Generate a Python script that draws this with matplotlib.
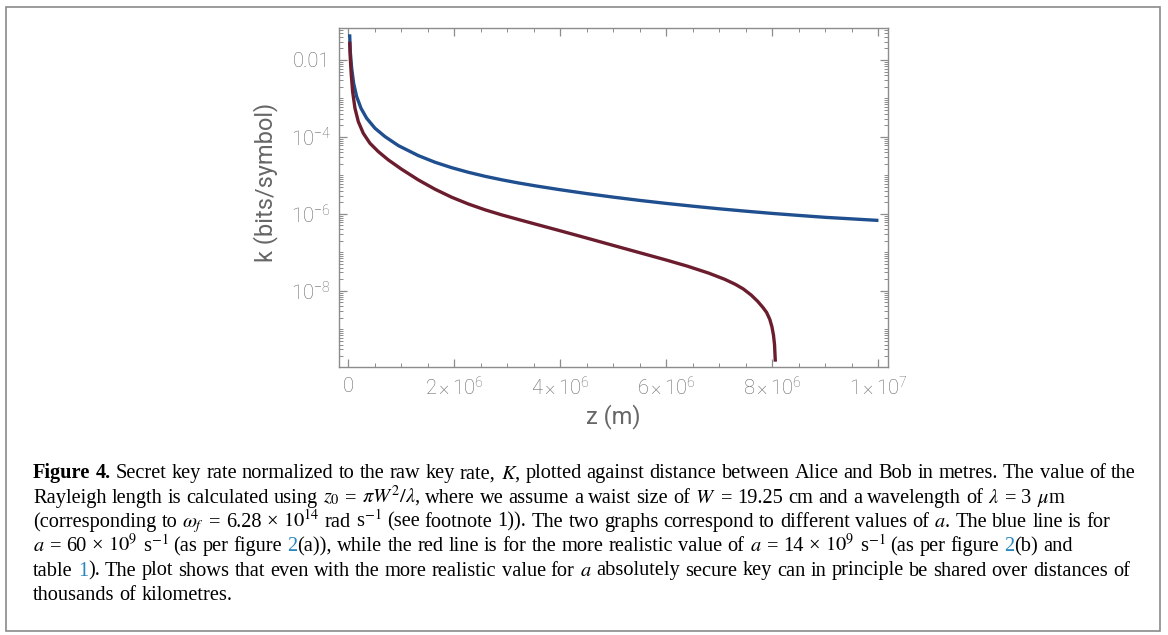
import matplotlib
matplotlib.use('Agg')
import matplotlib.pyplot as plt
import matplotlib.patches as patches
from matplotlib.ticker import FixedLocator, FuncFormatter, NullFormatter
import numpy as np

W, H = 1168, 635

# distances, in units of 1e6 m; k given as log10
z_blue = [0.026, 0.038, 0.064, 0.101, 0.158, 0.240, 0.347, 0.504, 0.692,
          0.944, 1.321, 1.636, 1.950, 2.265, 2.579, 2.894, 3.208, 3.523,
          4.0, 4.49, 5.0, 5.5, 6.0, 6.5, 7.0, 7.5, 8.0, 8.5, 9.0, 9.5, 10.0]
logk_blue = [-1.333, -1.784, -2.216, -2.606, -2.952, -3.255, -3.515, -3.775,
             -3.991, -4.225, -4.485, -4.658, -4.799, -4.919, -5.023, -5.114,
             -5.196, -5.270, -5.373, -5.471, -5.565, -5.650, -5.728, -5.800,
             -5.868, -5.930, -5.988, -6.040, -6.090, -6.130, -6.170]

z_red = [0.026, 0.038, 0.057, 0.082, 0.126, 0.189, 0.283, 0.409, 0.566,
         0.755, 1.006, 1.321, 1.636, 1.950, 2.265, 2.579, 2.894, 3.208,
         3.523, 4.0, 4.49, 5.0, 5.5, 6.0, 6.4, 6.8, 7.1, 7.3, 7.45, 7.6,
         7.72, 7.82, 7.89, 7.95, 7.99, 8.02, 8.04, 8.055]
logk_red = [-1.524, -1.957, -2.390, -2.823, -3.255, -3.602, -3.905, -4.165,
            -4.381, -4.597, -4.840, -5.117, -5.359, -5.567, -5.743, -5.894,
            -6.026, -6.145, -6.263, -6.440, -6.625, -6.820, -7.010, -7.200,
            -7.360, -7.540, -7.700, -7.830, -7.950, -8.110, -8.270, -8.430,
            -8.560, -8.740, -8.930, -9.150, -9.400, -9.840]

x_major = [0, 2e6, 4e6, 6e6, 8e6, 1e7]
y_major = [1e-2, 1e-4, 1e-6, 1e-8]
y_major_labels = ['0.01', '$10^{-4}$', '$10^{-6}$', '$10^{-8}$']

# caption lines as printed; text between § marks is a blue link
caption = [
    r"Figure 4. Secret key rate normalized to the raw key rate, $K$, plotted against distance between Alice and Bob in metres. The value of the",
    r"Rayleigh length is calculated using $z_0$ = $\pi{W}^2/\lambda$, where we assume a waist size of $W$ = 19.25 cm and a wavelength of $\lambda$ = 3 $\mu$m",
    r"(corresponding to $\omega_f$ = 6.28 × $10^{14}$ rad s$^{-1}$ (see footnote 1)). The two graphs correspond to different values of $a$. The blue line is for",
    r"$a$ = 60 × $10^9$ s$^{-1}$ (as per figure §2§(a)), while the red line is for the more realistic value of $a$ = 14 × $10^9$ s$^{-1}$ (as per figure §2§(b) and",
    r"table §1§). The plot shows that even with the more realistic value for $a$ absolutely secure key can in principle be shared over distances of",
    r"thousands of kilometres.",
]
cap_right = [1117, 1073, 1123, 1078, 1116, None]

plt.rcParams['font.family'] = ['Roboto', 'DejaVu Sans']
plt.rcParams['font.weight'] = 'light'
plt.rcParams['mathtext.fontset'] = 'custom'
plt.rcParams['mathtext.rm'] = 'Roboto:weight=light'
plt.rcParams['mathtext.it'] = 'Roboto:italic:weight=light'
plt.rcParams['mathtext.bf'] = 'Roboto:weight=bold'

fig = plt.figure(figsize=(W / 100, H / 100), dpi=100, facecolor='white')

# outer frame around figure + caption
fig.patches.append(patches.Rectangle((6 / W, 1 - 631 / H), (1160 - 6) / W, (631 - 7) / H,
                                     transform=fig.transFigure, fill=False,
                                     edgecolor='#8a8a8a', linewidth=1.2))

ax = fig.add_axes([339 / W, 1 - 367 / H, (888 - 339) / W, (367 - 28.3) / H])
ax.plot(np.array(z_blue) * 1e6, 10.0 ** np.array(logk_blue), color='#1f4f8e',
        lw=2.4, solid_capstyle='butt', solid_joinstyle='round')
ax.plot(np.array(z_red) * 1e6, 10.0 ** np.array(logk_red), color='#6b1d2e',
        lw=2.4, solid_capstyle='butt', solid_joinstyle='round')
ax.set_yscale('log')
ax.set_xlim(-0.175e6, 1.018e7)
ax.set_ylim(1.05e-10, 6.65e-2)

grey = '#8c8c8c'
for s in ax.spines.values():
    s.set_color(grey)
    s.set_linewidth(1.0)


def xfmt(v, pos):
    if v == 0:
        return '0'
    e = int(np.floor(np.log10(v) + 1e-9))
    m = v / 10 ** e
    return r'$%g\,{\times}\,10^{%d}$' % (m, e)


ax.xaxis.set_major_locator(FixedLocator(x_major))
ax.xaxis.set_major_formatter(FuncFormatter(xfmt))
ax.xaxis.set_minor_locator(FixedLocator(np.arange(0, 1.01e7, 5e5)))

ax.yaxis.set_major_locator(FixedLocator(y_major))
ax.set_yticklabels(y_major_labels)
ym = []
for d in range(-11, -1):
    for s in range(1, 10):
        ym.append(s * 10.0 ** d)
ax.yaxis.set_minor_locator(FixedLocator(ym))
ax.yaxis.set_minor_formatter(NullFormatter())

ax.tick_params(which='both', direction='in', top=True, right=True,
               colors=grey, labelcolor='#666666', labelsize=14.5)
ax.tick_params(which='major', length=6, width=0.9)
ax.tick_params(which='minor', length=3, width=0.7)
ax.tick_params(axis='y', which='major', pad=6)
ax.tick_params(axis='x', which='major', pad=7)

ax.set_xlabel('z (m)', fontsize=17, color='#666666', labelpad=4)
ax.set_ylabel('k (bits/symbol)', fontsize=17, color='#666666')
ax.yaxis.set_label_coords(-0.112, 0.546)

# ---- caption ----
renderer = fig.canvas.get_renderer()
serif = dict(fontfamily='Liberation Serif', math_fontfamily='stix')


def make_pieces(word, size, bold):
    parts = word.split('§')
    out = []
    for i, p in enumerate(parts):
        if not p:
            continue
        col = '#2a86c0' if i % 2 == 1 else 'black'
        t = fig.text(0, 0, p, fontsize=size, color=col,
                     fontweight='bold' if bold else 'normal', va='baseline', **serif)
        out.append([t, t.get_window_extent(renderer).width])
    return out


def space_width(size):
    a = fig.text(0, 0, 'x x', fontsize=size, **serif)
    b = fig.text(0, 0, 'xx', fontsize=size, **serif)
    sp = a.get_window_extent(renderer).width - b.get_window_extent(renderer).width
    a.remove()
    b.remove()
    return sp


def natural_width(line, size):
    made = []
    for w in line.split(' '):
        made += make_pieces(w, size, False)
    total = sum(p[1] for p in made)
    for p in made:
        p[0].remove()
    n = len(line.split(' '))
    return total + space_width(size) * (n - 1)


x_left = 33
base_size = 12
ratios, caps = [], []
for i, line in enumerate(caption[:5]):
    nat = natural_width(line, base_size)
    ratios.append((cap_right[i] - x_left) / nat)
    caps.append((1140 - x_left) / nat)
size = base_size * min(np.mean(ratios), min(caps))
gap = space_width(size)

for i, line in enumerate(caption):
    x = x_left
    y = 478.3 + 24.3 * i
    for j, w in enumerate(line.split(' ')):
        for t, wd in make_pieces(w, size, i == 0 and j < 2):
            t.set_position((x / W, 1 - y / H))
            x += wd
        x += gap

fig.savefig('out.png', dpi=100, facecolor='white')
